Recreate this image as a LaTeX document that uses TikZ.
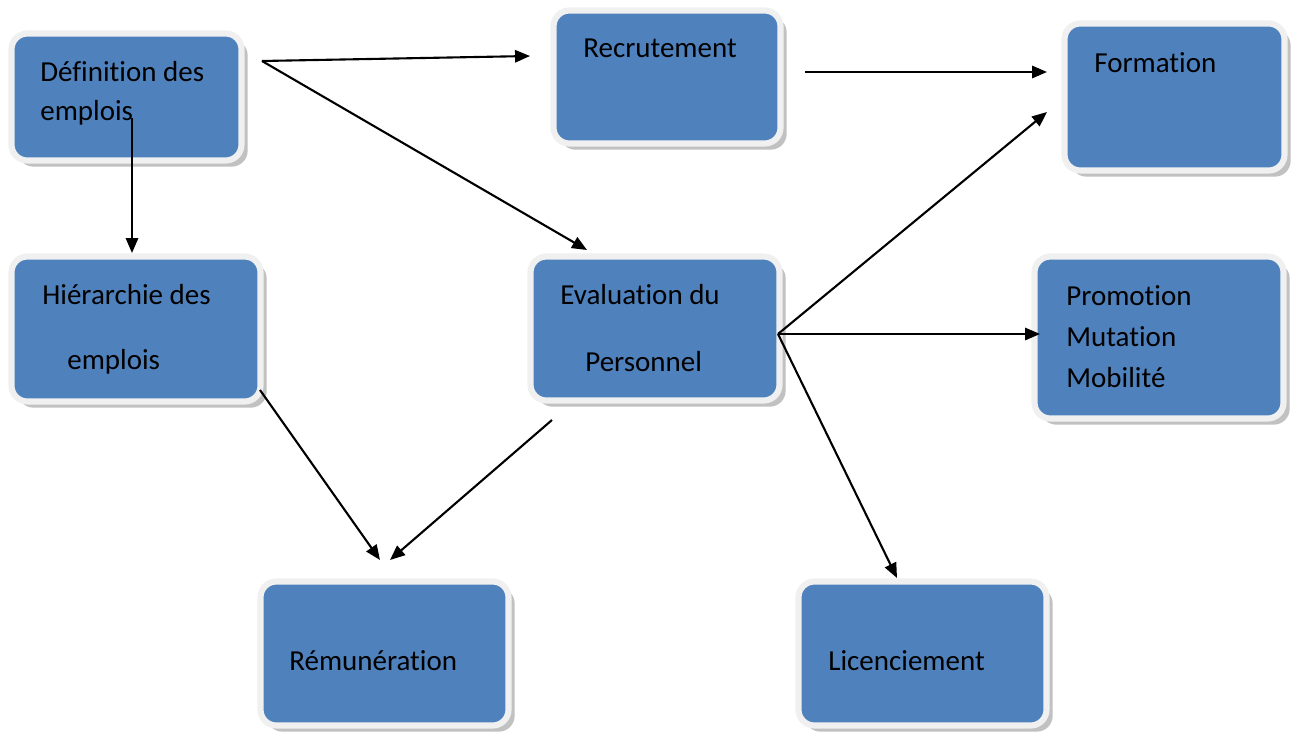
\documentclass[tikz,border=0pt]{standalone}
\usepackage{fontspec}
\setmainfont[RawFeature={-liga;-clig;-dlig;-calt}]{Carlito}
\usepackage{tikz}
\usetikzlibrary{arrows.meta, positioning, calc, shadows}

\tikzset{
  boite/.style={rectangle, rounded corners=9pt, fill=bleu, draw=bord, line width=3.5pt,
    drop shadow={shadow xshift=3.5pt, shadow yshift=-3.5pt, fill=gray!70, opacity=0.7}},
  texte/.style={anchor=west, inner sep=0pt, font=\fontsize{16.5}{20}\selectfont, text=black},
  fleche/.style={->, line width=1.2pt}
}
\definecolor{bleu}{HTML}{4F81BD}
\definecolor{bord}{HTML}{F0F0F0}

\begin{document}
\begin{tikzpicture}[>={Triangle[length=8.5pt,width=7pt]}]
        \useasboundingbox (0,0) rectangle (25.92,-14.66);

        % Boites
        \node[boite, minimum width=4.60cm, minimum height=2.54cm] (def) at (2.53,-1.94) {};
        \node[boite, minimum width=4.54cm, minimum height=2.66cm] (rec) at (13.34,-1.54) {};
        \node[boite, minimum width=4.40cm, minimum height=2.94cm] (form) at (23.49,-1.94) {};
        \node[boite, minimum width=4.98cm, minimum height=2.90cm] (hier) at (2.72,-6.58) {};
        \node[boite, minimum width=4.98cm, minimum height=2.88cm] (eval) at (13.10,-6.57) {};
        \node[boite, minimum width=4.98cm, minimum height=3.24cm] (promo) at (23.18,-6.75) {};
        \node[boite, minimum width=4.96cm, minimum height=2.88cm] (remu) at (7.69,-13.07) {};
        \node[boite, minimum width=4.96cm, minimum height=2.88cm] (lic) at (18.45,-13.07) {};

        % Textes
        \node[texte] (def-a) at (0.80,-1.44) {Définition des};
        \node[texte] (def-b) at (0.80,-2.26) {emplois};
        \node[texte] (rec-a) at (11.66,-0.96) {Recrutement};
        \node[texte] (form-a) at (21.88,-1.26) {Formation};
        \node[texte] (hier-a) at (0.84,-5.90) {Hiérarchie des};
        \node[texte] (hier-b) at (1.34,-7.24) {emplois};
        \node[texte] (eval-a) at (11.20,-5.90) {Evaluation du};
        \node[texte] (eval-b) at (11.70,-7.24) {Personnel};
        \node[texte] (promo-a) at (21.32,-5.92) {Promotion};
        \node[texte] (promo-b) at (21.32,-6.74) {Mutation};
        \node[texte] (promo-c) at (21.32,-7.56) {Mobilité};
        \node[texte] (remu-a) at (5.78,-13.22) {Rémunération};
        \node[texte] (lic-a) at (16.56,-13.22) {Licenciement};

        % Points de depart et d'arrivee des fleches
        \coordinate (def-out) at (5.24,-1.22);
        \coordinate (def-bas) at (2.64,-2.36);
        \coordinate (rec-in) at (10.60,-1.12);
        \coordinate (rec-out) at (16.10,-1.44);
        \coordinate (form-in1) at (20.94,-1.44);
        \coordinate (form-in2) at (20.94,-2.24);
        \coordinate (hier-in) at (2.64,-5.06);
        \coordinate (hier-out) at (5.20,-7.80);
        \coordinate (eval-in) at (11.74,-5.00);
        \coordinate (eval-out) at (15.56,-6.68);
        \coordinate (eval-bas) at (11.04,-8.40);
        \coordinate (promo-in) at (20.80,-6.68);
        \coordinate (lic-in) at (17.94,-11.56);
        \coordinate (remu-in1) at (7.60,-11.20);
        \coordinate (remu-in2) at (7.80,-11.20);

        % Fleches
        \draw[fleche] (def-out) -- (rec-in);
        \draw[fleche] (def-out) -- (eval-in);
        \draw[fleche] (def-bas) -- (hier-in);
        \draw[fleche] (rec-out) -- (form-in1);
        \draw[fleche] (eval-out) -- (form-in2);
        \draw[fleche] (eval-out) -- (promo-in);
        \draw[fleche] (eval-out) -- (lic-in);
        \draw[fleche] (hier-out) -- (remu-in1);
        \draw[fleche] (eval-bas) -- (remu-in2);
\end{tikzpicture}
\end{document}
